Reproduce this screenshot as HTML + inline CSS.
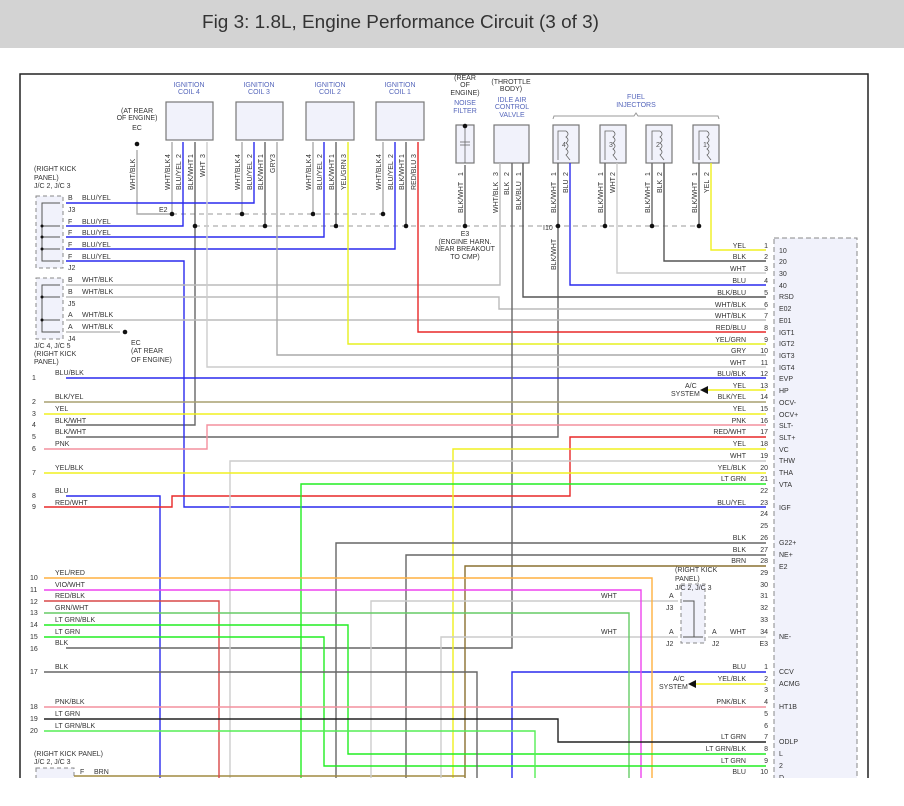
<!DOCTYPE html>
<html><head><meta charset="utf-8"><style>
body{margin:0;background:#fff;width:904px;height:806px;overflow:hidden}
svg{display:block}
text{font-family:"Liberation Sans",sans-serif;font-size:7px;fill:#333}
.b{fill:#5566bb}
.o{fill:#555}
</style></head><body>
<svg width="904" height="806" viewBox="0 0 904 806" xmlns="http://www.w3.org/2000/svg">
<rect x="0" y="0" width="904" height="48" fill="#d3d3d3"/>
<text x="202" y="28" style="font-size:18px;fill:#333" textLength="397" lengthAdjust="spacingAndGlyphs">Fig 3: 1.8L, Engine Performance Circuit (3 of 3)</text>
<defs><clipPath id="c"><rect x="0" y="60" width="904" height="718"/></clipPath></defs>
<g clip-path="url(#c)">
<polyline points="20,790 20,74 868,74 868,790" fill="none" stroke="#222" stroke-width="1.5"/>
<!-- ECM box -->
<rect x="774" y="238" width="83" height="560" fill="#f1f2fb" stroke="#888" stroke-dasharray="5,3"/>
<!-- J boxes -->
<rect x="36" y="196" width="27" height="72" fill="#f1f2fb" stroke="#888" stroke-dasharray="4,3"/>
<rect x="36" y="278" width="27" height="61" fill="#f1f2fb" stroke="#888" stroke-dasharray="4,3"/>
<rect x="681" y="584" width="24" height="59" fill="#f1f2fb" stroke="#888" stroke-dasharray="4,3"/>
<rect x="36" y="768" width="38" height="20" fill="#f1f2fb" stroke="#888" stroke-dasharray="4,3"/>
<g fill="none" stroke="#555" stroke-width="1">
<polyline points="60,203 42,203 42,261 60,261"/><line x1="42" y1="226" x2="60" y2="226"/><line x1="42" y1="237" x2="60" y2="237"/><line x1="42" y1="249" x2="60" y2="249"/>
<polyline points="60,285 42,285 42,332 60,332"/><line x1="42" y1="297" x2="60" y2="297"/><line x1="42" y1="320" x2="60" y2="320"/>
<polyline points="683,601 694,601 694,637 683,637 703,637"/>
</g>
<!-- component boxes -->
<g fill="#f1f2fb" stroke="#777" stroke-width="1.2">
<rect x="166" y="102" width="47" height="38"/><rect x="236" y="102" width="47" height="38"/><rect x="306" y="102" width="48" height="38"/><rect x="376" y="102" width="48" height="38"/>
<rect x="456" y="125" width="18" height="38"/><rect x="494" y="125" width="35" height="38"/>
<rect x="553" y="125" width="26" height="38"/><rect x="600" y="125" width="26" height="38"/><rect x="646" y="125" width="26" height="38"/><rect x="693" y="125" width="26" height="38"/>
</g>
<polyline points="553,119 554,116 634,116 636,113 638,116 718,116 719,119" fill="none" stroke="#999"/>
<g fill="none" stroke="#666" stroke-width="0.8">
<polyline points="558,160 558,131 566,131"/><path d="M566,131 q4,3 0,6 q4,3 0,6 q4,3 0,6 q4,3 0,6 L570,160"/>
<polyline points="605,160 605,131 613,131"/><path d="M613,131 q4,3 0,6 q4,3 0,6 q4,3 0,6 q4,3 0,6 L617,160"/>
<polyline points="652,160 652,131 660,131"/><path d="M660,131 q4,3 0,6 q4,3 0,6 q4,3 0,6 q4,3 0,6 L664,160"/>
<polyline points="699,160 699,131 707,131"/><path d="M707,131 q4,3 0,6 q4,3 0,6 q4,3 0,6 q4,3 0,6 L711,160"/>
<line x1="465" y1="125" x2="465" y2="163"/><line x1="460" y1="142" x2="470" y2="142"/><line x1="460" y1="145" x2="470" y2="145"/>
</g>
<text x="562" y="147" class="o">4</text><text x="609" y="147" class="o">3</text><text x="656" y="147" class="o">2</text><text x="703" y="147" class="o">1</text>
<!-- dashed buses -->
<g stroke="#999" stroke-dasharray="5,4" fill="none">
<line x1="172" y1="214" x2="384" y2="214"/><line x1="195" y1="226" x2="700" y2="226"/>
</g>
<g fill="none" stroke-width="1.4">
<!-- coil pin lines -->
<g stroke="#aaa"><line x1="172" y1="142" x2="172" y2="214"/><line x1="242" y1="142" x2="242" y2="214"/><line x1="313" y1="142" x2="313" y2="214"/><line x1="383" y1="142" x2="383" y2="214"/>
<polyline points="137,150 137,214 172,214"/></g>
<g stroke="#666"><line x1="265" y1="142" x2="265" y2="226"/><line x1="336" y1="142" x2="336" y2="226"/><line x1="406" y1="142" x2="406" y2="226"/>
<polyline points="195,142 195,425 66,425"/>
<line x1="465" y1="165" x2="465" y2="226"/><line x1="605" y1="163" x2="605" y2="226"/><line x1="652" y1="163" x2="652" y2="226"/><line x1="699" y1="163" x2="699" y2="226"/>
<polyline points="558,163 558,437 66,437"/></g>
<g stroke="#2a2aee">
<polyline points="66,203 254,203 254,142"/><polyline points="66,226 183,226 183,142"/><polyline points="66,237 324,237 324,142"/><polyline points="66,249 395,249 395,142"/>
<polyline points="66,261 184,261 184,507 766,507"/>
<polyline points="570,163 570,285 766,285"/>
<polyline points="66,378 766,378"/>
<polyline points="66,496 160,496 160,790"/>
<polyline points="766,672 512,672 512,790"/>
</g>
<!-- top right -->
<polyline points="711,163 711,250 766,250" stroke="#f0f020"/>
<polyline points="664,163 664,261 766,261" stroke="#555"/>
<polyline points="617,163 617,273 766,273" stroke="#ccc"/>
<polyline points="523,163 523,297 766,297" stroke="#555"/>
<polyline points="500,163 500,285 66,285" stroke="#bbb"/>
<polyline points="66,297 499,297 499,309 766,309" stroke="#bbb"/>
<polyline points="66,320 766,320" stroke="#bbb"/>
<polyline points="66,332 120,332" stroke="#bbb"/>
<polyline points="418,142 418,332 766,332" stroke="#e82828"/>
<polyline points="348,142 348,344 766,344" stroke="#e6f020"/>
<polyline points="277,142 277,355 766,355" stroke="#aaa"/>
<polyline points="207,142 207,367 766,367" stroke="#ccc"/>
<polyline points="512,163 512,648 66,648" stroke="#666"/>
<!-- left rows -->
<polyline points="708,390 766,390" stroke="#f0f020"/>
<polyline points="44,402 766,402" stroke="#a8a070"/>
<polyline points="44,414 766,414" stroke="#f0f020"/>
<polyline points="44,449 207,449 207,425 766,425" stroke="#f4909e"/>
<polyline points="44,507 172,507 172,496 570,496 570,437 766,437" stroke="#e82828"/>
<polyline points="453,790 453,449 766,449" stroke="#f0f020"/>
<polyline points="230,790 230,461 766,461" stroke="#ccc"/>
<polyline points="44,473 766,473" stroke="#f0f020"/>
<polyline points="301,790 301,484 766,484" stroke="#22ee22"/>
<polyline points="336,790 336,543 766,543" stroke="#666"/>
<polyline points="406,790 406,555 766,555" stroke="#666"/>
<polyline points="465,790 465,566 766,566" stroke="#8a7030"/>
<polyline points="74,776 465,776" stroke="#a08a40"/>
<polyline points="371,790 371,601 678,601" stroke="#ccc"/>
<polyline points="441,790 441,637 678,637" stroke="#ccc"/>
<polyline points="708,637 766,637" stroke="#ccc"/>
<polyline points="44,578 652,578 652,790" stroke="#ffb040"/>
<polyline points="44,590 641,590 641,790" stroke="#ee44ee"/>
<polyline points="44,601 219,601 219,790" stroke="#d84848"/>
<polyline points="44,613 629,613 629,790" stroke="#66cc66"/>
<polyline points="44,625 348,625 348,754 766,754" stroke="#22ee22"/>
<polyline points="44,637 324,637 324,766 766,766" stroke="#22ee22"/>
<polyline points="44,672 477,672 477,790" stroke="#666"/>
<polyline points="696,684 766,684" stroke="#f0f020"/>
<polyline points="44,707 766,707" stroke="#f4909e"/>
<polyline points="44,719 558,719 558,742 766,742" stroke="#222"/>
<polyline points="44,731 535,731 535,790" stroke="#55ee55"/>
</g>
<!-- dots -->
<g fill="#111">
<circle cx="172" cy="214" r="2.3"/><circle cx="242" cy="214" r="2.3"/><circle cx="313" cy="214" r="2.3"/><circle cx="383" cy="214" r="2.3"/>
<circle cx="195" cy="226" r="2.3"/><circle cx="265" cy="226" r="2.3"/><circle cx="336" cy="226" r="2.3"/><circle cx="406" cy="226" r="2.3"/><circle cx="465" cy="226" r="2.3"/>
<circle cx="558" cy="226" r="2.3"/><circle cx="605" cy="226" r="2.3"/><circle cx="652" cy="226" r="2.3"/><circle cx="699" cy="226" r="2.3"/>
<circle cx="137" cy="144" r="2.3"/><circle cx="125" cy="332" r="2.3"/><circle cx="465" cy="126" r="2.3"/>
<circle cx="42" cy="226" r="1.5"/><circle cx="42" cy="237" r="1.5"/><circle cx="42" cy="249" r="1.5"/><circle cx="42" cy="297" r="1.5"/><circle cx="42" cy="320" r="1.5"/>
<polygon points="700,390 708,386 708,394"/><polygon points="688,684 696,680 696,688"/>
</g>
<!-- component labels -->
<g class="b" text-anchor="middle">
<text x="189" y="87" class="b">IGNITION</text><text x="189" y="94" class="b">COIL 4</text>
<text x="259" y="87" class="b">IGNITION</text><text x="259" y="94" class="b">COIL 3</text>
<text x="330" y="87" class="b">IGNITION</text><text x="330" y="94" class="b">COIL 2</text>
<text x="400" y="87" class="b">IGNITION</text><text x="400" y="94" class="b">COIL 1</text>
<text x="465" y="105" class="b">NOISE</text><text x="465" y="113" class="b">FILTER</text>
<text x="512" y="102" class="b">IDLE AIR</text><text x="512" y="109" class="b">CONTROL</text><text x="512" y="117" class="b">VALVLE</text>
<text x="636" y="99" class="b">FUEL</text><text x="636" y="107" class="b">INJECTORS</text>
</g>
<g text-anchor="middle">
<text x="465" y="80">(REAR</text><text x="465" y="87">OF</text><text x="465" y="95">ENGINE)</text>
<text x="511" y="84">(THROTTLE</text><text x="511" y="91">BODY)</text>
<text x="137" y="113">(AT REAR</text><text x="137" y="120">OF ENGINE)</text><text x="137" y="130">EC</text>
<text x="465" y="236">E3</text><text x="465" y="244">(ENGINE HARN.</text><text x="465" y="251">NEAR BREAKOUT</text><text x="465" y="259">TO CMP)</text>
</g>
<text x="34" y="171">(RIGHT KICK</text><text x="34" y="180">PANEL)</text><text x="34" y="188">J/C 2, J/C 3</text>
<text x="34" y="348">J/C 4, J/C 5</text><text x="34" y="356">(RIGHT KICK</text><text x="34" y="364">PANEL)</text>
<text x="131" y="345">EC</text><text x="131" y="353">(AT REAR</text><text x="131" y="362">OF ENGINE)</text>
<text x="159" y="212">E2</text><text x="543" y="230">I10</text>
<text x="34" y="756">(RIGHT KICK PANEL)</text><text x="34" y="764">J/C 2, J/C 3</text><text x="80" y="774">F</text><text x="94" y="774">BRN</text>
<text x="675" y="572">(RIGHT KICK</text><text x="675" y="581">PANEL)</text><text x="675" y="590">J/C 2, J/C 3</text>
<text x="669" y="598">A</text><text x="666" y="610">J3</text><text x="669" y="634">A</text><text x="666" y="646">J2</text><text x="712" y="634">A</text><text x="712" y="646">J2</text><text x="730" y="634">WHT</text>
<text x="601" y="598">WHT</text><text x="601" y="634">WHT</text>
<text x="685" y="388">A/C</text><text x="671" y="396">SYSTEM</text>
<text x="673" y="681">A/C</text><text x="659" y="689">SYSTEM</text>
<!-- J box labels -->
<text x="68" y="200">B</text><text x="82" y="200">BLU/YEL</text><text x="68" y="212">J3</text>
<text x="68" y="224">F</text><text x="82" y="224">BLU/YEL</text>
<text x="68" y="235">F</text><text x="82" y="235">BLU/YEL</text>
<text x="68" y="247">F</text><text x="82" y="247">BLU/YEL</text>
<text x="68" y="259">F</text><text x="82" y="259">BLU/YEL</text><text x="68" y="270">J2</text>
<text x="68" y="282">B</text><text x="82" y="282">WHT/BLK</text>
<text x="68" y="294">B</text><text x="82" y="294">WHT/BLK</text><text x="68" y="306">J5</text>
<text x="68" y="317">A</text><text x="82" y="317">WHT/BLK</text>
<text x="68" y="329">A</text><text x="82" y="329">WHT/BLK</text><text x="68" y="341">J4</text>
<!-- vertical wire labels -->
<g>
<text transform="translate(135,190) rotate(-90)">WHT/BLK</text>
<text transform="translate(170,190) rotate(-90)">WHT/BLK</text><text transform="translate(181,190) rotate(-90)">BLU/YEL</text><text transform="translate(193,190) rotate(-90)">BLK/WHT</text><text transform="translate(205,177) rotate(-90)">WHT</text>
<text transform="translate(240,190) rotate(-90)">WHT/BLK</text><text transform="translate(252,190) rotate(-90)">BLU/YEL</text><text transform="translate(263,190) rotate(-90)">BLK/WHT</text><text transform="translate(275,173) rotate(-90)">GRY</text>
<text transform="translate(311,190) rotate(-90)">WHT/BLK</text><text transform="translate(322,190) rotate(-90)">BLU/YEL</text><text transform="translate(334,190) rotate(-90)">BLK/WHT</text><text transform="translate(346,190) rotate(-90)">YEL/GRN</text>
<text transform="translate(381,190) rotate(-90)">WHT/BLK</text><text transform="translate(393,190) rotate(-90)">BLU/YEL</text><text transform="translate(404,190) rotate(-90)">BLK/WHT</text><text transform="translate(416,190) rotate(-90)">RED/BLU</text>
<text transform="translate(463,213) rotate(-90)">BLK/WHT</text>
<text transform="translate(498,213) rotate(-90)">WHT/BLK</text><text transform="translate(509,195) rotate(-90)">BLK</text><text transform="translate(521,210) rotate(-90)">BLK/BLU</text>
<text transform="translate(556,213) rotate(-90)">BLK/WHT</text><text transform="translate(568,193) rotate(-90)">BLU</text>
<text transform="translate(603,213) rotate(-90)">BLK/WHT</text><text transform="translate(615,193) rotate(-90)">WHT</text>
<text transform="translate(650,213) rotate(-90)">BLK/WHT</text><text transform="translate(662,193) rotate(-90)">BLK</text>
<text transform="translate(697,213) rotate(-90)">BLK/WHT</text><text transform="translate(709,193) rotate(-90)">YEL</text>
<text transform="translate(556,270) rotate(-90)">BLK/WHT</text>
</g>
<!-- pin numbers on components -->
<g style="font-size:6px">
<text transform="translate(170,158) rotate(-90)">4</text><text transform="translate(181,158) rotate(-90)">2</text><text transform="translate(193,158) rotate(-90)">1</text><text transform="translate(205,158) rotate(-90)">3</text>
<text transform="translate(240,158) rotate(-90)">4</text><text transform="translate(252,158) rotate(-90)">2</text><text transform="translate(263,158) rotate(-90)">1</text><text transform="translate(275,158) rotate(-90)">3</text>
<text transform="translate(311,158) rotate(-90)">4</text><text transform="translate(322,158) rotate(-90)">2</text><text transform="translate(334,158) rotate(-90)">1</text><text transform="translate(346,158) rotate(-90)">3</text>
<text transform="translate(381,158) rotate(-90)">4</text><text transform="translate(393,158) rotate(-90)">2</text><text transform="translate(404,158) rotate(-90)">1</text><text transform="translate(416,158) rotate(-90)">3</text>
<text transform="translate(463,176) rotate(-90)">1</text><text transform="translate(498,176) rotate(-90)">3</text><text transform="translate(509,176) rotate(-90)">2</text><text transform="translate(521,176) rotate(-90)">1</text>
<text transform="translate(556,176) rotate(-90)">1</text><text transform="translate(568,176) rotate(-90)">2</text><text transform="translate(603,176) rotate(-90)">1</text><text transform="translate(615,176) rotate(-90)">2</text>
<text transform="translate(650,176) rotate(-90)">1</text><text transform="translate(662,176) rotate(-90)">2</text><text transform="translate(697,176) rotate(-90)">1</text><text transform="translate(709,176) rotate(-90)">2</text>
</g>
<!-- left row labels -->
<g>
<text x="32" y="380">1</text><text x="55" y="375">BLU/BLK</text>
<text x="32" y="404">2</text><text x="55" y="399">BLK/YEL</text>
<text x="32" y="416">3</text><text x="55" y="411">YEL</text>
<text x="32" y="427">4</text><text x="55" y="423">BLK/WHT</text>
<text x="32" y="439">5</text><text x="55" y="434">BLK/WHT</text>
<text x="32" y="451">6</text><text x="55" y="446">PNK</text>
<text x="32" y="475">7</text><text x="55" y="470">YEL/BLK</text>
<text x="32" y="498">8</text><text x="55" y="493">BLU</text>
<text x="32" y="509">9</text><text x="55" y="505">RED/WHT</text>
<text x="30" y="580">10</text><text x="55" y="575">YEL/RED</text>
<text x="30" y="592">11</text><text x="55" y="587">VIO/WHT</text>
<text x="30" y="604">12</text><text x="55" y="598">RED/BLK</text>
<text x="30" y="615">13</text><text x="55" y="610">GRN/WHT</text>
<text x="30" y="627">14</text><text x="55" y="622">LT GRN/BLK</text>
<text x="30" y="639">15</text><text x="55" y="634">LT GRN</text>
<text x="30" y="651">16</text><text x="55" y="645">BLK</text>
<text x="30" y="674">17</text><text x="55" y="669">BLK</text>
<text x="30" y="709">18</text><text x="55" y="704">PNK/BLK</text>
<text x="30" y="721">19</text><text x="55" y="716">LT GRN</text>
<text x="30" y="733">20</text><text x="55" y="728">LT GRN/BLK</text>
</g>
<!-- right labels -->
<g text-anchor="end">
<text x="746" y="248">YEL</text><text x="746" y="259">BLK</text><text x="746" y="271">WHT</text><text x="746" y="283">BLU</text><text x="746" y="295">BLK/BLU</text><text x="746" y="307">WHT/BLK</text><text x="746" y="318">WHT/BLK</text><text x="746" y="330">RED/BLU</text><text x="746" y="342">YEL/GRN</text><text x="746" y="353">GRY</text><text x="746" y="365">WHT</text><text x="746" y="376">BLU/BLK</text><text x="746" y="388">YEL</text><text x="746" y="399">BLK/YEL</text><text x="746" y="411">YEL</text><text x="746" y="423">PNK</text><text x="746" y="434">RED/WHT</text><text x="746" y="446">YEL</text><text x="746" y="458">WHT</text><text x="746" y="470">YEL/BLK</text><text x="746" y="481">LT GRN</text><text x="746" y="505">BLU/YEL</text><text x="746" y="540">BLK</text><text x="746" y="552">BLK</text><text x="746" y="563">BRN</text>
<text x="746" y="669">BLU</text><text x="746" y="681">YEL/BLK</text><text x="746" y="704">PNK/BLK</text><text x="746" y="739">LT GRN</text><text x="746" y="751">LT GRN/BLK</text><text x="746" y="763">LT GRN</text><text x="746" y="774">BLU</text>
<text x="768" y="248">1</text><text x="768" y="259">2</text><text x="768" y="271">3</text><text x="768" y="283">4</text><text x="768" y="295">5</text><text x="768" y="307">6</text><text x="768" y="318">7</text><text x="768" y="330">8</text><text x="768" y="342">9</text><text x="768" y="353">10</text><text x="768" y="365">11</text><text x="768" y="376">12</text><text x="768" y="388">13</text><text x="768" y="399">14</text><text x="768" y="411">15</text><text x="768" y="423">16</text><text x="768" y="434">17</text><text x="768" y="446">18</text><text x="768" y="458">19</text><text x="768" y="470">20</text><text x="768" y="481">21</text><text x="768" y="493">22</text><text x="768" y="505">23</text><text x="768" y="516">24</text><text x="768" y="528">25</text><text x="768" y="540">26</text><text x="768" y="552">27</text><text x="768" y="563">28</text><text x="768" y="575">29</text><text x="768" y="587">30</text><text x="768" y="598">31</text><text x="768" y="610">32</text><text x="768" y="622">33</text><text x="768" y="634">34</text><text x="768" y="646">E3</text>
<text x="768" y="669">1</text><text x="768" y="681">2</text><text x="768" y="692">3</text><text x="768" y="704">4</text><text x="768" y="716">5</text><text x="768" y="728">6</text><text x="768" y="739">7</text><text x="768" y="751">8</text><text x="768" y="763">9</text><text x="768" y="774">10</text>
</g>
<g>
<text x="779" y="253">10</text><text x="779" y="264">20</text><text x="779" y="276">30</text><text x="779" y="288">40</text><text x="779" y="299">RSD</text><text x="779" y="311">E02</text><text x="779" y="323">E01</text><text x="779" y="335">IGT1</text><text x="779" y="346">IGT2</text><text x="779" y="358">IGT3</text><text x="779" y="370">IGT4</text><text x="779" y="381">EVP</text><text x="779" y="393">HP</text><text x="779" y="405">OCV-</text><text x="779" y="417">OCV+</text><text x="779" y="428">SLT-</text><text x="779" y="440">SLT+</text><text x="779" y="452">VC</text><text x="779" y="463">THW</text><text x="779" y="475">THA</text><text x="779" y="487">VTA</text><text x="779" y="510">IGF</text><text x="779" y="545">G22+</text><text x="779" y="557">NE+</text><text x="779" y="569">E2</text><text x="779" y="639">NE-</text>
<text x="779" y="674">CCV</text><text x="779" y="686">ACMG</text><text x="779" y="709">HT1B</text><text x="779" y="744">ODLP</text><text x="779" y="756">L</text><text x="779" y="768">2</text><text x="779" y="780">D</text>
</g>
</g>
</svg>
</body></html>
